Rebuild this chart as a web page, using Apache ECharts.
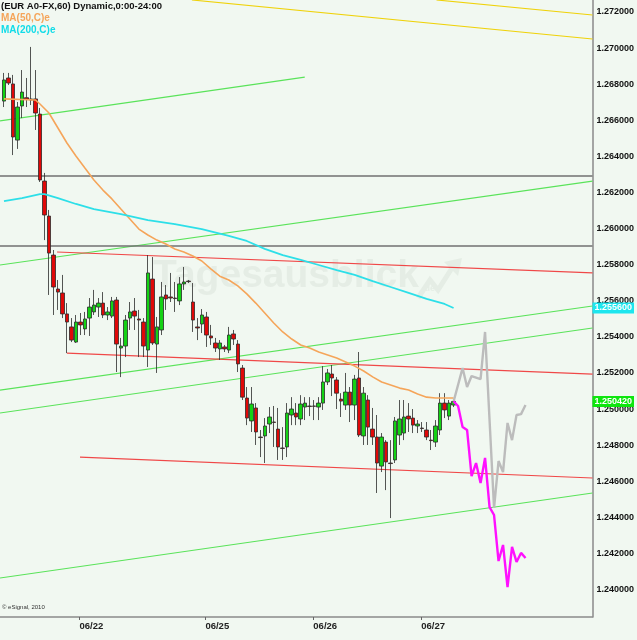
<!DOCTYPE html>
<html><head><meta charset="utf-8">
<script src="https://cdn.jsdelivr.net/npm/echarts@6/dist/echarts.min.js"></script>
<style>html,body{margin:0;padding:0;background:#f1f8f1;}#c{width:637px;height:640px;}</style>
</head><body><div id="c"></div>
<script>
// ---- data ----
const candleOpen = [1.26706,1.26834,1.26801,1.26490,1.26679,1.26725,1.26718,1.26718,1.26634,1.26263,
1.26069,1.25853,1.25665,1.25643,1.25527,1.25455,1.25371,1.25482,1.25444,1.25504,
1.25538,1.25565,1.25587,1.25521,1.25515,1.25604,1.25338,1.25349,1.25504,1.25543,
1.25499,1.25482,1.25327,1.25720,1.25360,1.25438,1.25632,1.25621,1.25615,1.25599,
1.25693,1.25709,1.25593,1.25455,1.25471,1.25510,1.25405,1.25366,1.25333,1.25344,
1.25327,1.25416,1.25360,1.25227,1.25061,1.24934,1.25006,1.24845,1.24851,1.24917,
1.24928,1.24889,1.24784,1.24790,1.24967,1.24978,1.24945,1.25011,1.25017,1.25017,
1.25011,1.25033,1.25150,1.25194,1.25161,1.25055,1.25022,1.25094,1.25022,1.25172,
1.24851,1.25050,1.24889,1.24845,1.24684,1.24817,1.24701,1.24718,1.24856,1.24867,
1.24961,1.24950,1.24906,1.24895,1.24884,1.24828,1.24817,1.24884,1.25033,1.24961,1.25022];
const candleClose = [1.26823,1.26806,1.26507,1.26673,1.26756,1.26716,1.26712,1.26640,1.26269,1.26075,
1.25864,1.25676,1.25648,1.25527,1.25482,1.25382,1.25482,1.25466,1.25499,1.25565,
1.25576,1.25587,1.25521,1.25538,1.25599,1.25360,1.25349,1.25493,1.25538,1.25515,
1.25493,1.25349,1.25754,1.25366,1.25455,1.25621,1.25610,1.25615,1.25612,1.25693,
1.25704,1.25706,1.25493,1.25449,1.25521,1.25410,1.25394,1.25338,1.25366,1.25333,
1.25410,1.25388,1.25250,1.25066,1.24950,1.25028,1.24873,1.24842,1.24906,1.24956,
1.24926,1.24790,1.24782,1.24978,1.25000,1.24956,1.25028,1.25033,1.25014,1.25015,
1.25033,1.25150,1.25200,1.25172,1.25088,1.25044,1.25094,1.25022,1.25166,1.24856,
1.25088,1.24900,1.24845,1.24701,1.24845,1.24707,1.24698,1.24934,1.24945,1.24956,
1.24945,1.24911,1.24917,1.24892,1.24845,1.24825,1.24906,1.25033,1.24995,1.25033,1.25042];
const candleLow = [1.26673,1.26795,1.26407,1.26441,1.26612,1.26673,1.26684,1.26546,1.26258,1.25936,
1.25632,1.25521,1.25549,1.25504,1.25310,1.25371,1.25366,1.25410,1.25410,1.25405,
1.25521,1.25510,1.25504,1.25493,1.25504,1.25205,1.25177,1.25288,1.25438,1.25438,
1.25288,1.25288,1.25233,1.25355,1.25200,1.25410,1.25549,1.25593,1.25538,1.25576,
1.25660,1.25698,1.25427,1.25382,1.25421,1.25344,1.25355,1.25316,1.25272,1.25316,
1.25310,1.25355,1.25205,1.25050,1.24911,1.24873,1.24801,1.24734,1.24701,1.24867,
1.24790,1.24718,1.24718,1.24734,1.24911,1.24911,1.24911,1.24939,1.24961,1.24939,
1.24939,1.24995,1.25133,1.25072,1.25000,1.24956,1.24995,1.24928,1.24939,1.24845,
1.24801,1.24801,1.24801,1.24535,1.24651,1.24551,1.24396,1.24701,1.24801,1.24828,
1.24873,1.24867,1.24867,1.24873,1.24828,1.24773,1.24790,1.24856,1.24950,1.24939,1.25011];
const candleHigh = [1.26862,1.26862,1.26851,1.26701,1.26878,1.26834,1.27006,1.26878,1.26668,1.26308,
1.26103,1.25881,1.25715,1.25743,1.25587,1.25504,1.25521,1.25532,1.25538,1.25615,
1.25660,1.25615,1.25648,1.25565,1.25621,1.25621,1.25394,1.25521,1.25593,1.25615,
1.25549,1.25504,1.25853,1.25842,1.25510,1.25704,1.25687,1.25754,1.25704,1.25731,
1.25787,1.25715,1.25698,1.25504,1.25554,1.25538,1.25466,1.25394,1.25382,1.25355,
1.25455,1.25438,1.25382,1.25244,1.25122,1.25122,1.25033,1.24884,1.24950,1.25011,
1.25017,1.25006,1.24900,1.25033,1.25066,1.25033,1.25077,1.25066,1.25066,1.25050,
1.25066,1.25238,1.25222,1.25244,1.25177,1.25088,1.25200,1.25122,1.25189,1.25316,
1.25122,1.25077,1.25006,1.24967,1.24867,1.24828,1.24828,1.24956,1.25050,1.25050,
1.25033,1.25000,1.24939,1.24928,1.24928,1.24884,1.24939,1.25088,1.25088,1.25050,1.25055];

const ma50X = [0,7,8,10,12,14,16,18,20,22,24,26,28,30,32,34,36,38,40,42,44,46,48,50,52,54,56,58,60,62,64,66,68,70,72,74,76,78,80,82,84,86,88,90,92,94,96,98,100];
const ma50Y = [1.26718,1.26712,1.26690,1.26640,1.26557,1.26474,1.26402,1.26335,1.26269,1.26213,1.26164,1.26108,1.26053,1.25997,1.25964,1.25936,1.25914,1.25887,1.25870,1.25848,1.25820,1.25776,1.25736,1.25715,1.25682,1.25638,1.25587,1.25532,1.25477,1.25427,1.25388,1.25355,1.25338,1.25316,1.25300,1.25283,1.25261,1.25238,1.25211,1.25178,1.25150,1.25133,1.25116,1.25105,1.25083,1.25066,1.25061,1.25061,1.25061];
const ma200X = [0,4,8,9,12,16,20,26,32,38,44,50,54,58,62,66,70,74,78,82,86,90,94,98,100];
const ma200Y = [1.26152,1.26169,1.26191,1.26191,1.26169,1.26136,1.26108,1.26080,1.26047,1.26025,1.25997,1.25959,1.25931,1.25887,1.25853,1.25826,1.25798,1.25770,1.25743,1.25709,1.25676,1.25643,1.25610,1.25582,1.25560];

const magentaX = [100,101,102,103,104,105,106,107,108,109,110,111,112,113,114,115,116];
const magentaY = [1.25042,1.25017,1.24900,1.24884,1.24629,1.24701,1.24590,1.24729,1.24457,1.24413,1.24158,1.24247,1.24014,1.24236,1.24153,1.24203,1.24175];
const grayX = [100,102,103,104,106,107,109,110,111,112,113,114,115,116];
const grayY = [1.25042,1.25227,1.25122,1.25183,1.25166,1.25427,1.24452,1.24712,1.24651,1.24923,1.24828,1.24967,1.24972,1.25022];

// trend lines: [x1, y1, x2, y2] (bar index, price)
const greenLines = [[-0.89,1.26596,66.9,1.26839],[-0.89,1.25798,130.9,1.26263],[-0.89,1.25105,130.9,1.25571],[-0.89,1.24978,130.9,1.25449],[-0.89,1.24064,130.9,1.24535]];
const redLines = [[11.8,1.25870,130.9,1.25754],[14.0,1.25310,130.9,1.25194],[16.9,1.24734,130.9,1.24618]];
const yellowLines = [[41.8,1.27266,130.9,1.27050],[96.2,1.27266,130.9,1.27183]];
const levelLines = [1.26291,1.25903];

const dayTickPos = [16.8,44.8,68.8,92.8];
const dayTickLabels = ['06/22','06/25','06/26','06/27'];
const yTicks = [1.240,1.242,1.244,1.246,1.248,1.250,1.252,1.254,1.256,1.258,1.260,1.262,1.264,1.266,1.268,1.270,1.272];
const xMin = -0.889, xMax = 130.889, yMin = 1.23848, yMax = 1.27266;

// ---- chart ----
const chart = echarts.init(document.getElementById('c'));
const FONT = 'Liberation Sans, Arial, sans-serif';
function mk(data, color, width, z) {
  return {type:'line', data, symbol:'none', showSymbol:false, silent:true, animation:false,
    lineStyle:{color, width}, z: z};
}
const series = [];
greenLines.forEach(l => series.push(mk([[l[0],l[1]],[l[2],l[3]]], '#5ae35a', 1.2, 1)));
redLines.forEach(l => series.push(mk([[l[0],l[1]],[l[2],l[3]]], '#f04848', 1.2, 1)));
yellowLines.forEach(l => series.push(mk([[l[0],l[1]],[l[2],l[3]]], '#efd20a', 1.2, 1)));
levelLines.forEach(v => series.push(mk([[xMin,v],[xMax,v]], '#707070', 1.4, 1)));
series.push({
  type:'candlestick', clip:false, animation:false, silent:true, z:2,
  data: candleOpen.map((o,i)=>[i,o,candleClose[i],candleLow[i],candleHigh[i]]),
  encode:{x:0, y:[1,2,3,4]},
  barWidth: 4,
  itemStyle:{color:'#14d214', color0:'#e00808', borderColor:'#2b2b2b', borderColor0:'#2b2b2b', borderColorDoji:'#2b2b2b', borderWidth:0.8},
  markLine:{symbol:'none', silent:true, animation:false, precision:6, lineStyle:{color:'rgba(0,0,0,0)', width:0},
    label:{position:'end', distance:0, fontFamily:FONT, fontSize:9, fontWeight:'bold', color:'#ffffff', padding:[1,2,1,2]},
    data:[
      {yAxis: ma200Y[ma200Y.length-1], label:{backgroundColor:'#1de6ee', formatter: ma200Y[ma200Y.length-1].toFixed(6)}},
      {yAxis: candleClose[candleClose.length-1], label:{backgroundColor:'#0ee60e', formatter: candleClose[candleClose.length-1].toFixed(6)}}
    ]}
});
series.push(mk(ma50X.map((x,i)=>[x,ma50Y[i]]), '#f5a55a', 1.6, 3));
series.push(mk(ma200X.map((x,i)=>[x,ma200Y[i]]), '#2ddfe8', 1.8, 3));
series.push(mk(grayX.map((x,i)=>[x,grayY[i]]), '#bcbcbc', 2.4, 4));
series.push(mk(magentaX.map((x,i)=>[x,magentaY[i]]), '#ff10ff', 2.4, 4));

chart.setOption({
  animation:false,
  backgroundColor:'#f1f8f1',
  grid:{left:0, right:44, top:0, bottom:23},
  xAxis:{type:'value', min:xMin, max:xMax,
    axisLine:{show:true, lineStyle:{color:'#8a8a8a', width:1.5}},
    axisTick:{show:true, customValues:dayTickPos, length:3, lineStyle:{color:'#666'}},
    splitLine:{show:false},
    axisLabel:{customValues:dayTickPos, align:'left', margin:4, fontFamily:FONT, fontSize:9.5, fontWeight:'bold', color:'#222',
      formatter: v => { const k = dayTickPos.findIndex(p => Math.abs(p - v) < 1e-6); return k >= 0 ? dayTickLabels[k] : ''; }}
  },
  yAxis:{type:'value', position:'right', min:yMin, max:yMax, scale:true,
    axisLine:{show:true, onZero:false, lineStyle:{color:'#8a8a8a', width:1.5}},
    axisTick:{show:false}, splitLine:{show:false},
    axisLabel:{customValues:yTicks, margin:4, fontFamily:FONT, fontSize:9, fontWeight:'bold', color:'#111',
      formatter: v => v.toFixed(6)}
  },
  graphic:[
    {type:'text', left:153, top:257, z:0, silent:true, style:{text:'Tagesausblick', font:'bold 39px Liberation Sans, Arial', fill:'#e5ede5'}},
    {type:'polyline', z:0, silent:true, shape:{points:[[418,298],[430,280],[438,290],[452,268]]}, style:{stroke:'#e5ede5', lineWidth:5, fill:null}},
    {type:'polygon', z:0, silent:true, shape:{points:[[444,262],[462,258],[458,276]]}, style:{fill:'#e5ede5'}},
    {type:'text', left:422, top:284, z:0, silent:true, style:{text:'.de', font:'bold 9px Liberation Sans, Arial', fill:'#e5ede5'}},
    {type:'text', left:1, top:1, z:100, style:{text:'(EUR A0-FX,60) Dynamic,0:00-24:00', font:'bold 9.5px Liberation Sans, Arial', fill:'#111'}},
    {type:'text', left:1, top:13, z:100, style:{text:'MA(50,C)e', font:'bold 10px Liberation Sans, Arial', fill:'#f5a55a'}},
    {type:'text', left:1, top:25, z:100, style:{text:'MA(200,C)e', font:'bold 10px Liberation Sans, Arial', fill:'#12dce8'}},
    {type:'text', left:2, top:604, z:100, style:{text:'\u00a9 eSignal, 2010', font:'6px Liberation Sans, Arial', fill:'#333'}}
  ],
  series
});
</script></body></html>
